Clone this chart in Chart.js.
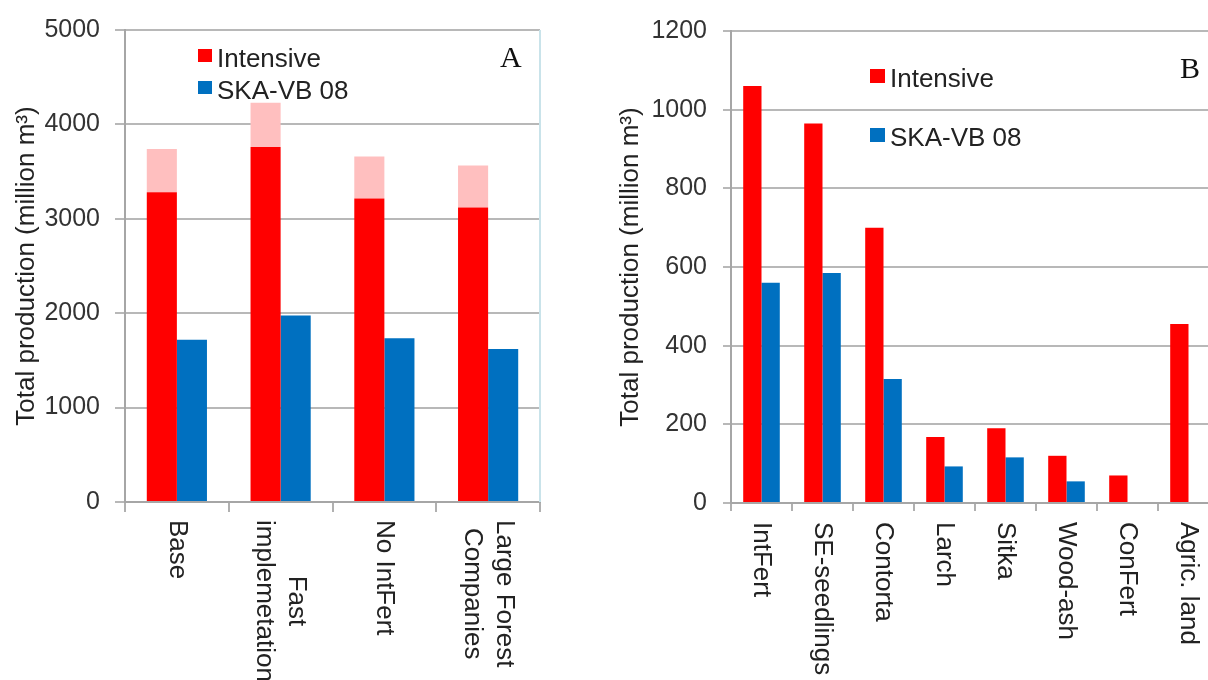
<!doctype html>
<html lang="en">

<head>
  <title>Total production</title>
  <meta charset="utf-8">
  <style>
    html, body { margin: 0; padding: 0; background: #fff; width: 1208px; height: 680px; overflow: hidden; }
    canvas { position: absolute; top: 0; }
    #graficoA { left: 0; }
    #graficoB { left: 600px; }
  </style>
</head>

<body>
  <canvas id="graficoA" width="560" height="680"></canvas>
  <canvas id="graficoB" width="640" height="680"></canvas>

  <!-- ChartJS -->
  <script src="https://cdn.jsdelivr.net/npm/chart.js"></script>

  <script>
    // Panel A
    const etiquetasA = [['Base'], ['Fast', 'implemetation'], ['No IntFert'], ['Large Forest', 'Companies']];
    const intensivoA = [3280, 3760, 3215, 3120];
    const intensivoMaxA = [3740, 4230, 3660, 3565];
    const skaA = [1720, 1975, 1735, 1620];
    const ticksA = [0, 1000, 2000, 3000, 4000, 5000];

    // Panel B
    const etiquetasB = ['IntFert', 'SE-seedlings', 'Contorta', 'Larch', 'Sitka', 'Wood-ash', 'ConFert', 'Agric. land'];
    const intensivoB = [1060, 965, 700, 168, 190, 120, 70, 455];
    const skaB = [560, 585, 315, 93, 116, 55, null, null];
    const ticksB = [0, 200, 400, 600, 800, 1000, 1200];

    const rojo = '#ff0000';
    const rosa = '#ffbfbf';
    const azul = '#0070c0';
    const tituloY = 'Total production (million m³)';
    const fuente = '"Liberation Sans", Arial, sans-serif';

    Chart.defaults.font.family = fuente;
    Chart.defaults.font.size = 26;
    Chart.defaults.color = '#262626';

    function ejeY(ticks, largo, pad, ancho, padTitulo) {
      return {
        stacked: true,
        min: ticks[0],
        max: ticks[ticks.length - 1],
        ticks: {
          stepSize: ticks[1] - ticks[0],
          padding: pad,
          color: '#333',
          font: { size: 25 },
          callback: (v) => String(v)
        },
        grid: { color: '#b8b8b8', lineWidth: 2, tickLength: largo },
        border: { color: '#a6a6a6', width: 2 },
        title: { display: true, text: tituloY, color: '#222', padding: { top: padTitulo, bottom: 0 } },
        afterFit(scale) { scale.width = ancho; }
      };
    }

    function ejeX(largo) {
      return {
        ticks: { display: false },
        grid: { display: true, drawOnChartArea: false, color: '#b0b0b0', lineWidth: 2, tickLength: largo },
        border: { color: '#a6a6a6', width: 2 }
      };
    }

    // etiquetas del eje x giradas 90 grados (se leen de arriba hacia abajo)
    const etiquetasGiradas = {
      id: 'etiquetasGiradas',
      afterDraw(chart, args, opts) {
        const { ctx, chartArea } = chart;
        const x = chart.scales.x;
        ctx.save();
        ctx.font = '26px ' + fuente;
        ctx.fillStyle = '#222';
        ctx.textAlign = 'center';
        ctx.textBaseline = 'middle';
        chart.data.labels.forEach((etiqueta, i) => {
          const lineas = [].concat(etiqueta);
          const w = Math.max(...lineas.map(l => ctx.measureText(l).width));
          ctx.save();
          ctx.translate(x.getPixelForValue(i), chartArea.bottom + opts.gap);
          ctx.rotate(Math.PI / 2);
          lineas.forEach((linea, j) => {
            ctx.fillText(linea, w / 2, (j - (lineas.length - 1) / 2) * opts.lineHeight);
          });
          ctx.restore();
        });
        ctx.restore();
      }
    };

    // leyenda dentro del area y letra del panel
    const leyenda = {
      id: 'leyenda',
      afterDraw(chart, args, opts) {
        const { ctx, chartArea } = chart;
        ctx.save();
        if (opts.borde) {
          ctx.strokeStyle = opts.borde;
          ctx.lineWidth = 2;
          ctx.beginPath();
          ctx.moveTo(chartArea.right, chartArea.top);
          ctx.lineTo(chartArea.right, chartArea.bottom);
          ctx.stroke();
        }
        ctx.font = '26px ' + fuente;
        ctx.textBaseline = 'middle';
        chart.data.datasets.filter(d => d.enLeyenda).forEach((d, i) => {
          const x = chartArea.left + opts.x;
          const y = chartArea.top + opts.y + i * opts.gap;
          ctx.fillStyle = d.backgroundColor;
          ctx.fillRect(x, y - 10, opts.cuadro, opts.cuadro - 1);
          ctx.fillStyle = '#222';
          ctx.fillText(d.label, x + opts.cuadro + 5, y + 1);
        });
        ctx.font = '30px "Liberation Serif", "Times New Roman", serif';
        ctx.textBaseline = 'alphabetic';
        ctx.fillStyle = '#111';
        ctx.fillText(opts.panel, opts.panelX, opts.panelY);
        ctx.restore();
      }
    };

    const graficoA = new Chart(document.getElementById('graficoA'), {
      type: 'bar',
      data: {
        labels: etiquetasA,
        datasets: [
          { label: 'Intensive', data: intensivoA, backgroundColor: rojo, stack: 'int', enLeyenda: true },
          { label: 'Intensive (range)', data: intensivoMaxA.map((v, i) => v - intensivoA[i]), backgroundColor: rosa, stack: 'int' },
          { label: 'SKA-VB 08', data: skaA, backgroundColor: azul, stack: 'ska', enLeyenda: true }
        ]
      },
      options: {
        responsive: false,
        animation: false,
        layout: { padding: { left: 0, right: 20, top: 23, bottom: 168 } },
        datasets: { bar: { categoryPercentage: 0.58, barPercentage: 1, borderWidth: 0 } },
        scales: { x: ejeX(10), y: ejeY(ticksA, 10, 15, 125, 11) },
        plugins: {
          legend: { display: false },
          tooltip: { enabled: false },
          etiquetasGiradas: { gap: 18, lineHeight: 32 },
          leyenda: { x: 73, y: 29, gap: 32, cuadro: 14, panel: 'A', panelX: 500, panelY: 67, borde: '#c9e3ea' }
        }
      },
      plugins: [etiquetasGiradas, leyenda]
    });

    const graficoB = new Chart(document.getElementById('graficoB'), {
      type: 'bar',
      data: {
        labels: etiquetasB,
        datasets: [
          { label: 'Intensive', data: intensivoB, backgroundColor: rojo, stack: 'int', enLeyenda: true },
          { label: 'SKA-VB 08', data: skaB, backgroundColor: azul, stack: 'ska', enLeyenda: true }
        ]
      },
      options: {
        responsive: false,
        animation: false,
        layout: { padding: { left: 0, right: 21, top: 23, bottom: 169 } },
        datasets: { bar: { categoryPercentage: 0.6, barPercentage: 1, borderWidth: 0 } },
        scales: { x: ejeX(8), y: ejeY(ticksB, 8, 16, 131, 15) },
        plugins: {
          legend: { display: false },
          tooltip: { enabled: false },
          etiquetasGiradas: { gap: 19, lineHeight: 32 },
          leyenda: { x: 139, y: 48, gap: 59, cuadro: 15, panel: 'B', panelX: 580, panelY: 78 }
        }
      },
      plugins: [etiquetasGiradas, leyenda]
    });
  </script>
</body>

</html>
